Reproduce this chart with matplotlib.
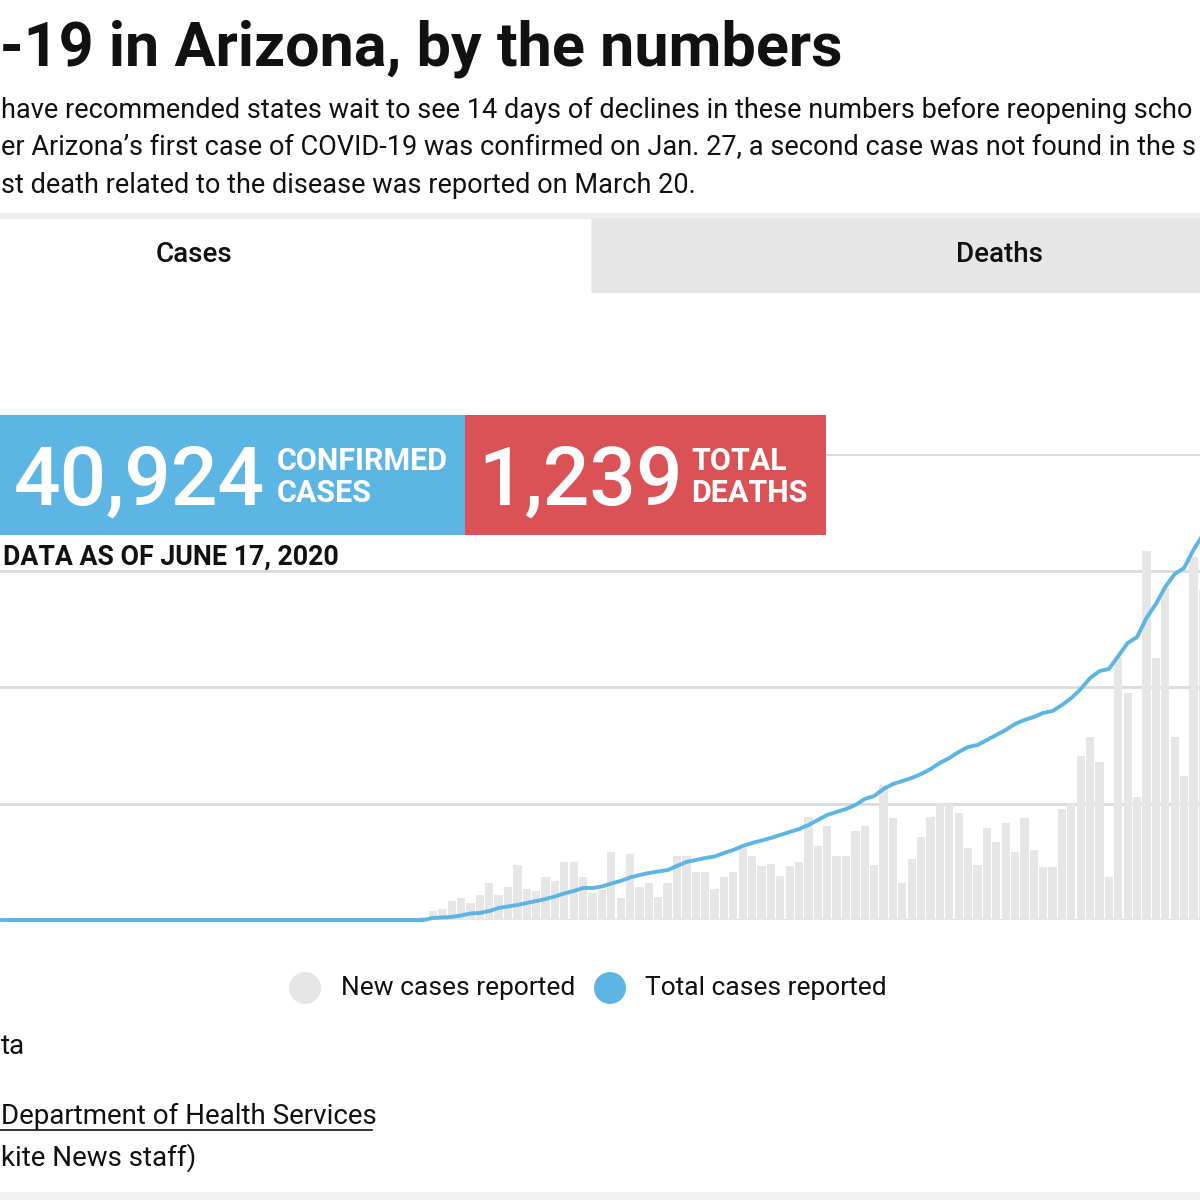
"""
COVID-19 in Arizona, by the numbers - recreated page crop.
Bars: new cases reported per day; line: total cases reported.
"""

import matplotlib.pyplot as plt
from matplotlib.patches import Rectangle, Circle
from matplotlib.lines import Line2D

# days before the first visible bar (flat line, no bars)
leading_days = 44

new_cases = [
    9, 11, 39, 47, 82, 94, 73, 107, 159, 107,
    142, 236, 133, 124, 185, 167, 249, 249, 185, 116,
    129, 292, 94, 283, 142, 159, 99, 159, 275, 275,
    206, 206, 133, 185, 206, 309, 275, 232, 240, 189,
    232, 249, 442, 318, 403, 275, 275, 382, 403, 236,
    579, 438, 159, 262, 356, 442, 502, 498, 459, 309,
    236, 395, 335, 416, 292, 438, 300, 227, 227, 476,
    502, 704, 785, 678, 185, 1129, 974, 528, 1584, 1124,
    1425, 785, 618, 1558, 1416,
]

total_cases = [
    0, 0, 170, 215, 260, 385, 560, 600, 770, 1030,
    1160, 1290, 1460, 1630, 1800, 2020, 2275, 2490, 2745, 2750,
    2875, 3130, 3350, 3650, 3860, 4035, 4160, 4290, 4635, 4980,
    5150, 5320, 5450, 5750, 6010, 6350, 6610, 6820, 7040, 7300,
    7550, 7810, 8155, 8585, 9015, 9270, 9530, 9870, 10390, 10645,
    11245, 11675, 11930, 12190, 12530, 12960, 13480, 13905, 14420, 14850,
    15020, 15450, 15880, 16310, 16825, 17170, 17425, 17770, 17940, 18455,
    19055, 19830, 20770, 21375, 21545, 22660, 23780, 24290, 25925, 27125,
    28585, 29700, 30215, 31760, 33050,
]

bars_y = [0] * leading_days + new_cases
line_y = [0] * leading_days + total_cases
days = list(range(len(bars_y)))

bar_grid = [0, 500, 1000, 1500, 2000]
line_grid = [0, 10000, 20000, 30000, 40000]

headline = "-19 in Arizona, by the numbers"
intro = [
    "have recommended states wait to see 14 days of declines in these numbers before reopening scho",
    "er Arizona\u2019s first case of COVID-19 was confirmed on Jan. 27, a second case was not found in the s",
    "st death related to the disease was reported on March 20.",
]

BLUE = "#5db5e4"
RED = "#da5156"
BAR_GRAY = "#e6e6e6"
GRID = "#dadada"
INK = "#111111"

plt.rcParams['font.family'] = ['Roboto', 'DejaVu Sans']

W = H = 1200.0


def fx(x):
    return x / W


def fy(y):
    return 1 - y / H


fig = plt.figure(figsize=(12, 12), dpi=100)
fig.patch.set_facecolor("white")

# ---- header text
fig.text(fx(0), fy(65), headline, fontsize=44, fontweight="bold",
         color=INK, va="baseline", ha="left")
for i, line in enumerate(intro):
    fig.text(fx(1), fy(118 + i * 37.5), line, fontsize=19.5,
             color=INK, va="baseline", ha="left")

# ---- tabs
fig.patches.append(Rectangle((0, fy(293)), 1, (293 - 213) / H,
                             transform=fig.transFigure, facecolor="#eeeeee",
                             edgecolor="none", zorder=0))
fig.patches.append(Rectangle((fx(592), fy(293)), 1, (293 - 218) / H,
                             transform=fig.transFigure, facecolor=BAR_GRAY,
                             edgecolor="none", zorder=0))
fig.patches.append(Rectangle((0, fy(293)), fx(591), (293 - 219) / H,
                             transform=fig.transFigure, facecolor="white",
                             edgecolor="none", zorder=0))
fig.text(fx(194), fy(254), "Cases", fontsize=20, fontweight="medium",
         color=INK, ha="center", va="center")
fig.text(fx(999), fy(254), "Deaths", fontsize=20, fontweight="medium",
         color=INK, ha="center", va="center")

# ---- chart
ax = fig.add_axes([0, fy(920), 1, (920 - 454) / H])
ax.bar(days, bars_y, width=0.88, color=BAR_GRAY, zorder=2)
ax.set_ylim(0, bar_grid[-1])
ax.set_yticks(bar_grid)
ax.yaxis.grid(True, color=GRID, linewidth=2)
ax.set_axisbelow(True)
ax.set_xlim(-0.1, 127.7)

ax2 = ax.twinx()
ax2.plot(days, line_y, color=BLUE, linewidth=2.8, solid_joinstyle="round",
         solid_capstyle="round", clip_on=False)
ax2.set_ylim(0, line_grid[-1])
ax2.set_yticks(line_grid)

for a in (ax, ax2):
    a.set_facecolor("none")
    for s in a.spines.values():
        s.set_visible(False)
    a.tick_params(left=False, right=False, bottom=False,
                  labelleft=False, labelright=False, labelbottom=False)

# ---- headline number boxes
fig.patches.append(Rectangle((0, fy(535)), fx(465), 120 / H,
                             transform=fig.transFigure, facecolor=BLUE,
                             edgecolor="none", zorder=5))
fig.patches.append(Rectangle((fx(465), fy(535)), fx(826 - 465), 120 / H,
                             transform=fig.transFigure, facecolor=RED,
                             edgecolor="none", zorder=5))
fig.text(fx(14), fy(505), "40,924", fontsize=59, fontweight="medium",
         color="white", va="baseline", zorder=6)
fig.text(fx(277), fy(470), "CONFIRMED", fontsize=22, fontweight="bold",
         color="white", va="baseline", zorder=6)
fig.text(fx(277), fy(502), "CASES", fontsize=22, fontweight="bold",
         color="white", va="baseline", zorder=6)
fig.text(fx(478), fy(505), "1,239", fontsize=59, fontweight="medium",
         color="white", va="baseline", zorder=6)
fig.text(fx(691), fy(470), "TOTAL", fontsize=22, fontweight="bold",
         color="white", va="baseline", zorder=6)
fig.text(fx(691), fy(502), "DEATHS", fontsize=22, fontweight="bold",
         color="white", va="baseline", zorder=6)
fig.text(fx(3), fy(565), "DATA AS OF JUNE 17, 2020", fontsize=19.3,
         fontweight="bold", color=INK, va="baseline", zorder=6)

# ---- legend
fig.patches.append(Circle((fx(305), fy(988)), 16 / W, transform=fig.transFigure,
                          facecolor=BAR_GRAY, edgecolor="none"))
fig.patches.append(Circle((fx(610), fy(988)), 16 / W, transform=fig.transFigure,
                          facecolor=BLUE, edgecolor="none"))
fig.text(fx(341), fy(988), "New cases reported", fontsize=19,
         color=INK, va="center")
fig.text(fx(645), fy(988), "Total cases reported", fontsize=19,
         color=INK, va="center")

# ---- footer
fig.text(fx(1), fy(1046), "ta", fontsize=20, color=INK, va="center")
fig.text(fx(1), fy(1116), "Department of Health Services", fontsize=20,
         color=INK, va="center")
fig.lines.append(Line2D([0, fx(372)], [fy(1130), fy(1130)],
                        transform=fig.transFigure, color=INK, linewidth=1.2))
fig.text(fx(1), fy(1158), "kite News staff)", fontsize=20, color=INK,
         va="center")
fig.patches.append(Rectangle((0, 0), 1, 8 / H, transform=fig.transFigure,
                             facecolor="#f1f1f1", edgecolor="none"))

fig.savefig("out.png", dpi=100)
plt.close(fig)
